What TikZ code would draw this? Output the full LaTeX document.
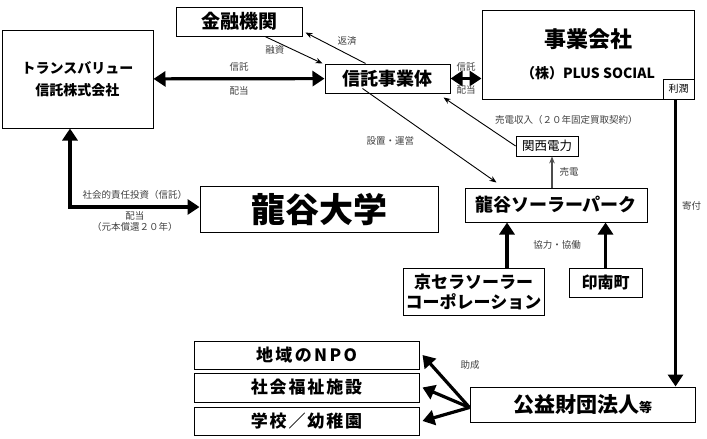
\documentclass[tikz,border=0pt]{standalone}
\usepackage{fontspec}
\setmainfont{Noto Sans CJK JP}
\usetikzlibrary{arrows.meta,positioning}
\newcommand{\fsz}[1]{\fontsize{#1pt}{#1pt}\selectfont}

\begin{document}
\begin{tikzpicture}[x=1pt,y=-1pt,>={Stealth[length=7pt,width=5.5pt]},semithick]
		\tikzstyle{box}=[draw,line width=1pt,inner sep=0pt]
		\tikzstyle{lbl}=[font=\fsz{9.5},text=black!75,inner sep=1pt]
		\tikzstyle{fat}=[line width=3.2pt,-{Triangle[length=12pt,width=15pt]}]
		\tikzstyle{fatboth}=[line width=3.2pt,{Triangle[length=12pt,width=15pt]}-{Triangle[length=12pt,width=15pt]}]
		\tikzstyle{thinline}=[line width=0.9pt,->]

		\useasboundingbox (0,0) rectangle (707,439);

		\node[box,minimum width=151pt,minimum height=98pt,align=center,font=\bfseries\fsz{14}] (tv) at (77.5,79) {トランスバリュー\\[8pt]信託株式会社};
		\node[box,minimum width=126pt,minimum height=29pt,font=\bfseries\fsz{19}] (kin) at (239,21.5) {金融機関};
		\node[box,minimum width=125pt,minimum height=29pt,font=\bfseries\fsz{18}] (sj) at (387.5,78.5) {信託事業体};
		\node[box,minimum width=212pt,minimum height=89pt,align=center,font=\bfseries] (jg) at (588,54.5) {\fsz{22}事業会社\\[16pt]\fsz{14}（株）PLUS SOCIAL};
		\node[box,line width=0.8pt,minimum width=31pt,minimum height=20pt,font=\fsz{10}] (rj) at (678.5,89) {利潤};
		\node[box,line width=0.8pt,minimum width=62pt,minimum height=20pt,font=\fsz{12.5}] (kd) at (547,146) {関西電力};
		\node[box,minimum width=182pt,minimum height=34pt,font=\bfseries\fsz{18}] (sp) at (556,205) {龍谷ソーラーパーク};
		\node[box,minimum width=238pt,minimum height=46pt,font=\bfseries\fsz{34}] (ry) at (319,209) {龍谷大学};
		\node[box,minimum width=141pt,minimum height=47pt,align=center,font=\bfseries\fsz{17}] (ky) at (473.5,291.5) {京セラソーラー\\[3pt]コーポレーション};
		\node[box,minimum width=73pt,minimum height=29pt,font=\bfseries\fsz{16}] (in) at (605.5,282.5) {印南町};
		\node[box,minimum width=225pt,minimum height=35pt,font=\bfseries] (ko) at (582.5,404.5) {\fsz{21}公益財団法人\fsz{13}等};
		\node[box,minimum width=225pt,minimum height=28pt,font=\bfseries\fsz{17}\addfontfeature{LetterSpace=14}] (np) at (306.5,355) {地域のNPO};
		\node[box,minimum width=225pt,minimum height=29pt,font=\bfseries\fsz{17}\addfontfeature{LetterSpace=11}] (fk) at (306.5,387.5) {社会福祉施設};
		\node[box,minimum width=225pt,minimum height=28pt,font=\bfseries\fsz{17}\addfontfeature{LetterSpace=11}] (gk) at (306.5,421) {学校／幼稚園};

		% trust and dividends
		\draw[fatboth] (tv) -- (sj)
			node[lbl,midway,above=5pt] {信託}
			node[lbl,midway,below=5pt] {配当};
		\draw[fatboth,line width=3pt] (sj.east) -- (sj.east -| jg.west)
			node[lbl,midway,above=5pt] {信託}
			node[lbl,midway,below=5pt] {配当};
		\draw[fatboth] ([xshift=-7.5pt]tv.south) |- ([yshift=2pt]ry.west)
			node[lbl,pos=0.75,above=5pt] {社会的責任投資（信託）}
			node[lbl,pos=0.75,below=2pt,align=center] {配当\\[1pt]（元本償還２０年）};

		% loans
		\path[thinline]
		([xshift=26pt]kin.south) edge node[lbl,midway,left=8pt] {融資} ([xshift=-2pt]sj.north west)
		([xshift=-22pt]sj.north) edge node[lbl,midway,above right=1pt] {返済} ([xshift=3pt,yshift=4pt]kin.south east)
		(kd.west) edge node[lbl,midway,right=14pt,yshift=2pt] {売電収入（２０年固定買取契約）} ([xshift=-7pt,yshift=-4pt]sj.south east)
		([xshift=-25pt,yshift=-10pt]sj.center) edge node[lbl,midway,left=14pt,yshift=-5pt] {設置・運営} ([xshift=32pt,yshift=5pt]sp.north west);
		\draw[thinline,black!70,line width=1.2pt] ([xshift=-4pt]sp.north) -- ([xshift=-4pt]sp.north |- kd.south)
			node[lbl,midway,right=6pt] {売電};

		% donation and cooperation
		\draw[fat] ([xshift=-3pt]rj.south) -- ([xshift=-3pt]rj.south |- ko.north)
			node[lbl,pos=0.37,right=4pt] {寄付};
		\draw[fat] ([xshift=33.5pt]ky.north) -- ([xshift=33.5pt]ky.north |- sp.south);
		\draw[fat] (in.north) -- (in.north |- sp.south)
			node[lbl,midway,left=22pt] {協力・協働};
		\draw[fat] ([yshift=-3pt]ko.west) -- ([xshift=3pt]np.east)
			node[lbl,midway,xshift=24pt,yshift=16pt] {助成};
		\draw[fat] ([yshift=-3pt]ko.west) -- ([xshift=3pt]fk.east);
		\draw[fat] ([yshift=-3pt]ko.west) -- ([xshift=3pt]gk.east);
	\end{tikzpicture}
\end{document}
